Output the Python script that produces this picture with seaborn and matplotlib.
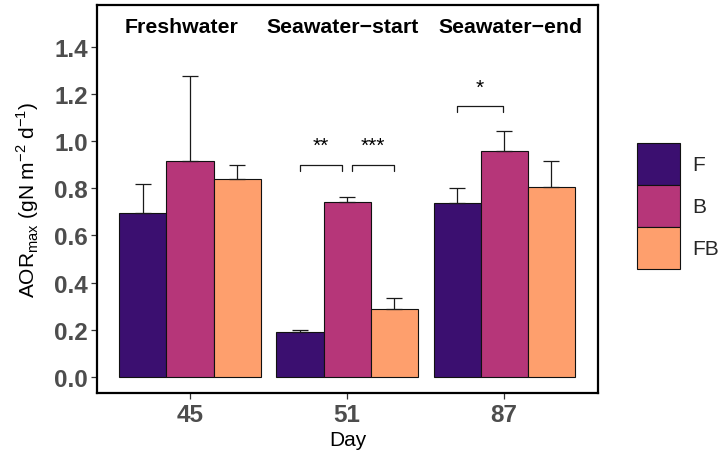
import matplotlib
matplotlib.use("Agg")
import matplotlib.pyplot as plt
import seaborn as sns
import pandas as pd
import numpy as np

days = ["45", "51", "87"]
phases = ["Freshwater", "Seawater\u2212start", "Seawater\u2212end"]
phase_x = [-0.056, 0.973, 2.04]
treatments = ["F", "B", "FB"]
aor_mean = {
    "F": [0.695, 0.192, 0.738],
    "B": [0.916, 0.740, 0.958],
    "FB": [0.841, 0.288, 0.806],
}
aor_sd = {
    "F": [0.124, 0.006, 0.065],
    "B": [0.361, 0.021, 0.087],
    "FB": [0.056, 0.048, 0.109],
}
palette = {"F": "#3B0F70", "B": "#B63679", "FB": "#FE9F6D"}

# significance brackets: (x start, x end, y level, label)
brackets = [(0.70, 0.97, 0.90, "**"), (1.03, 1.30, 0.90, "***"), (1.70, 1.99, 1.15, "*")]

rows = []
for t in treatments:
    for d, m, s in zip(days, aor_mean[t], aor_sd[t]):
        rows.append({"Day": d, "Treatment": t, "AOR": m, "SD": s})
df = pd.DataFrame(rows)

sns.set_theme(style="white")
plt.rcParams["font.family"] = ["Liberation Sans", "DejaVu Sans"]

fig = plt.figure(figsize=(7.24, 4.6), dpi=100)
ax = fig.add_axes([0.1336, 0.1424, 0.826 - 0.1336, 0.987 - 0.1424])

sns.barplot(data=df, x="Day", y="AOR", hue="Treatment", order=days,
            hue_order=treatments, palette=palette, errorbar=None,
            saturation=1, width=0.9, edgecolor="#111111", linewidth=0.8,
            ax=ax, zorder=2)

# upper error bars, positioned from the drawn bars
for container, t in zip(ax.containers, treatments):
    xs = [p.get_x() + p.get_width() / 2 for p in container.patches]
    ys = aor_mean[t]
    sd = aor_sd[t]
    ax.errorbar(xs, ys, yerr=[np.zeros(len(sd)), sd], fmt="none",
                ecolor="#1a1a1a", elinewidth=0.9, capsize=5.6,
                capthick=0.9, zorder=3)

for x0, x1, y, lab in brackets:
    ax.plot([x0, x0, x1, x1], [y - 0.025, y, y, y - 0.025],
            color="#1a1a1a", lw=0.9, zorder=4)
    ax.text((x0 + x1) / 2, y + 0.04, lab, ha="center", va="bottom",
            fontsize=15, color="black")

for xp, ph in zip(phase_x, phases):
    ax.text(xp, 1.487, ph, ha="center", va="center", fontsize=15.3,
            fontweight="bold", color="black")

ax.set_xlim(-0.594, 2.597)
ax.set_ylim(-0.071, 1.578)
ax.set_yticks([0.0, 0.2, 0.4, 0.6, 0.8, 1.0, 1.2, 1.4])
ax.set_yticklabels([f"{v:.1f}" for v in ax.get_yticks()])
ax.tick_params(axis="both", which="both", length=4, width=0.9,
               color="#333333", labelsize=17.5, labelcolor="#4D4D4D",
               left=True, bottom=True, pad=2.5)
for lab in ax.get_xticklabels() + ax.get_yticklabels():
    lab.set_fontweight("bold")
for sp in ax.spines.values():
    sp.set_visible(True)
    sp.set_color("black")
    sp.set_linewidth(1.6)

ax.set_xlabel("Day", fontsize=15, color="black", labelpad=3)
ax.set_ylabel(r"AOR$_{\mathregular{max}}$ (gN m$^{\mathregular{-2}}$ d$^{\mathregular{-1}}$)",
              fontsize=15, color="black", labelpad=9)

leg = ax.legend(title=None, loc="center left", bbox_to_anchor=(1.078, 0.483),
                frameon=False, fontsize=15, handlelength=2.06, handleheight=2.72,
                handletextpad=0.6, labelspacing=0.0, borderaxespad=0,
                borderpad=0)
for h in leg.legend_handles:
    h.set_edgecolor("#111111")
    h.set_linewidth(0.8)

fig.savefig("out.png", dpi=100)
